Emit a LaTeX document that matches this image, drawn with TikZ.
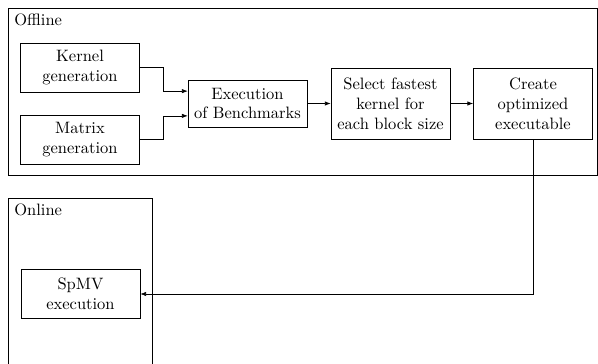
\documentclass[tikz,border=0pt]{standalone}
\usetikzlibrary{arrows.meta,positioning}
\begin{document}
\begin{tikzpicture}[x=0.606pt,y=-0.606pt,
    blk/.style={draw,align=center,minimum width=72pt,minimum height=29.5pt,inner sep=2pt},
    tallblk/.style={blk,minimum height=43pt},
    arr/.style={-{Latex[length=3.5pt,width=2.6pt]}},
    lbl/.style={anchor=north west,inner sep=0pt}]
  \useasboundingbox (0,0) rectangle (598,364);
  % the two stages
  \draw (8,8) rectangle (597,175);
  \draw (8,198) rectangle (152,380);
  \node[lbl] (offl) at (14,14) {Offline};
  \node[lbl] (onl) at (14,204) {Online};
  % offline blocks
  \node[blk] (kern) at (80,67.5) {Kernel\\generation};
  \node[blk] (matr) at (80,139.5) {Matrix\\generation};
  \node[blk,minimum height=28.5pt] (exec) at (247.5,103.5) {Execution\\of Benchmarks};
  \node[tallblk] (sel) at (390.5,103.5) {Select fastest\\kernel for\\each block size};
  \node[tallblk] (crt) at (533,103.5) {Create\\optimized\\executable};
  % online block
  \node[blk] (spmv) at (80.5,294) {SpMV\\execution};
  % connectors
  \draw[arr] (kern.east) -- ++(24,0) |- ([yshift=7.5pt]exec.west);
  \draw[arr] (matr.east) -- ++(24,0) |- ([yshift=-7.5pt]exec.west);
  \draw[arr] (exec) -- (sel);
  \draw[arr] (sel) -- (crt);
  \draw[arr] (crt.south) |- (spmv.east);
\end{tikzpicture}
\end{document}
